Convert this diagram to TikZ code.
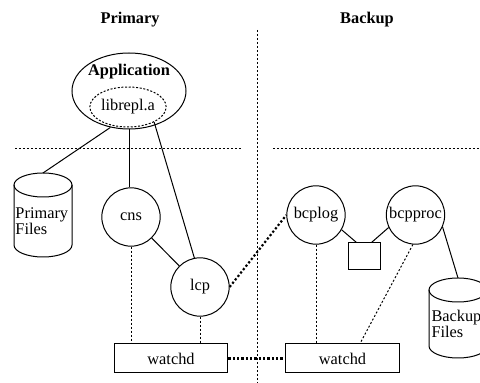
\documentclass[tikz,border=0pt]{standalone}
\usepackage{fontspec}
\setmainfont{Liberation Serif}
\usetikzlibrary{shapes.geometric}

\begin{document}
\begin{tikzpicture}[x=0.6pt,y=0.6pt,line width=0.6pt,
	font=\fontsize{9.8pt}{9.6pt}\selectfont,
	proc/.style={draw,shape=circle,minimum size=35pt,inner sep=0pt},
	daemon/.style={draw,shape=rectangle,minimum width=68.4pt,minimum height=17.4pt,inner sep=0pt},
	sep/.style={dash pattern=on 1.2pt off 1.2pt},
	watch/.style={dash pattern=on 1.2pt off 1.2pt},
	link/.style={line width=1.3pt,dash pattern=on 1.3pt off 1.3pt},
	pics/dbcyl/.style={code={
		\draw (0,0) ellipse (29 and 12);
		\draw (-29,0) -- (-29,-#1) arc (180:360:29 and 12) -- (29,0);
		\coordinate (-top) at (0,12);}}]
	\useasboundingbox (0,0) rectangle (480,-383);
	% the two sides
	\node (titlep) at (130,-20) {\bfseries Primary};
	\node (titleb) at (367,-20) {\bfseries Backup};
	\draw[sep] (257,-30) -- (257,-383);
	\draw[sep] (15,-149) -- (241,-149);
	\draw[sep] (273,-149) -- (480,-149);
	% primary
	\node (app) [draw,shape=ellipse,minimum width=68.4pt,minimum height=45.6pt] at (129,-91) {};
	\node (appname) at (129,-72) {\bfseries Application};
	\node (lib) [draw,shape=ellipse,dash pattern=on 1.2pt off 1pt,minimum width=43.8pt,minimum height=24pt,inner sep=0pt] at (128,-107) {librepl.a};
	\pic (pcyl) at (43,-185) {dbcyl=60};
	\node (pfiles) [anchor=west,align=left,inner sep=0pt] at (15,-221) {Primary\\Files};
	\node (cns) [proc] at (131,-217) {cns};
	\node (lcp) [proc] at (200,-287) {lcp};
	\node (wdp) [daemon] at (171,-358.5) {watchd};
	% backup
	\node (bcplog) [proc] at (316,-215) {bcplog};
	\node (bcpproc) [proc] at (415.5,-215) {bcpproc};
	\node (queue) [draw,minimum width=19.2pt,minimum height=16.2pt,inner sep=0pt] at (364,-256.5) {};
	\pic (bcyl) at (458,-290) {dbcyl=56};
	\node (bfiles) [anchor=west,align=left,inner sep=0pt] at (431,-324) {Backup\\Files};
	\node (wdb) [daemon] at (342.5,-358.5) {watchd};
	% connections
	\path (app.243) edge (pcyl-top);
	\path (app.south) edge (app.south |- cns.north);
	\path (lib.-30) edge (lcp.101);
	\path (cns) edge (lcp);
	\path (bcplog.-30) edge ([xshift=5.4pt]queue.north west);
	\path (bcpproc.205) edge ([xshift=-5.4pt]queue.north east);
	\path (bcpproc.-24) edge (bcyl-top);
	\path[watch] (cns.south) edge (cns.south |- wdp.north);
	\path[watch] (lcp.south) edge (lcp.south |- wdp.north);
	\path[watch] (bcplog.south) edge (bcplog.south |- wdb.north);
	\path[watch] (bcpproc.265) edge ([xshift=10.5pt]wdb.north);
	\path[link] (lcp.east) edge (bcplog.west);
	\path[link] (wdp.east) edge (wdb.west);
\end{tikzpicture}
\end{document}
